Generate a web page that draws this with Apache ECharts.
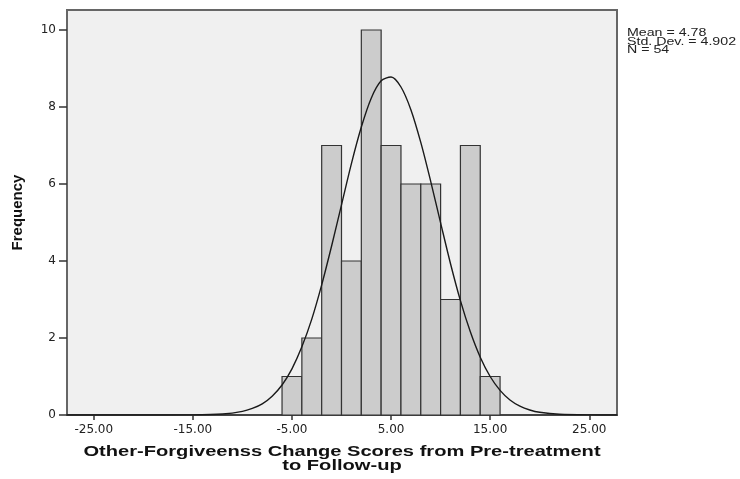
<!DOCTYPE html>
<html>
<head>
<meta charset="utf-8">
<script src="https://cdn.jsdelivr.net/npm/echarts@6/dist/echarts.min.js"></script>
<style>html,body{margin:0;padding:0;background:#fff}#c{width:740px;height:479px}</style>
</head>
<body>
<div id="c"></div>
<script>
// Histogram bins (start of each bin, width 2)
var binStarts = [-6, -4, -2, 0, 2, 4, 6, 8, 10, 12, 14];
var binWidth = 2;
var counts = [1, 2, 7, 4, 10, 7, 6, 6, 3, 7, 1];
// Normal curve
var curveX = [-27.7, -25, -20, -15, -12, -10, -9, -8, -7, -6, -5, -4, -3, -2, -1, 0, 1, 2, 3, 4, 5, 6, 7, 8, 9, 10, 11, 12, 13, 14, 15, 16, 17, 18, 19, 20, 22, 25, 27.8];
var curveY = [0, 0, 0, 0.003, 0.025, 0.093, 0.17, 0.29, 0.49, 0.78, 1.20, 1.77, 2.49, 3.38, 4.39, 5.46, 6.53, 7.48, 8.23, 8.68, 8.78, 8.52, 7.93, 7.08, 6.07, 4.99, 3.93, 2.97, 2.16, 1.50, 1.00, 0.64, 0.39, 0.23, 0.13, 0.07, 0.018, 0.002, 0];
var xTicks = [-25, -15, -5, 5, 15, 25];
var yTicks = [0, 2, 4, 6, 8, 10];
var statsLines = ['Mean = 4.78', 'Std. Dev. = 4.902', 'N = 54'];
var xTitleLines = ['Other-Forgiveenss Change Scores from Pre-treatment', 'to Follow-up'];
var yTitle = 'Frequency';

var chart = echarts.init(document.getElementById('c'));
var barData = binStarts.map(function (s, i) { return [s, s + binWidth, counts[i]]; });
var lineData = curveX.map(function (x, i) { return [x, curveY[i]]; });

chart.setOption({
  animation: false,
  backgroundColor: '#ffffff',
  grid: { left: 67, right: 123, top: 10, bottom: 64, show: true, backgroundColor: '#f0f0f0', borderColor: '#666', borderWidth: 2 },
  xAxis: {
    type: 'value', min: -27.7, max: 27.8,
    axisLine: { show: true, onZero: false, lineStyle: { color: '#444', width: 2 } },
    axisTick: { show: true, length: 5, customValues: xTicks, lineStyle: { color: '#333', width: 1.5 } },
    axisLabel: { customValues: xTicks, margin: 9, color: '#222', fontFamily: 'DejaVu Sans', fontSize: 12,
      formatter: function (v) { return v.toFixed(2); } },
    splitLine: { show: false }
  },
  yAxis: {
    type: 'value', min: 0, max: 10.52,
    axisLine: { show: true, onZero: false, lineStyle: { color: '#666', width: 2 } },
    axisTick: { show: true, length: 8, customValues: yTicks, lineStyle: { color: '#333', width: 1.5 } },
    axisLabel: { customValues: yTicks, margin: 11, color: '#222', fontFamily: 'DejaVu Sans', fontSize: 12 },
    splitLine: { show: false },
    name: yTitle, nameLocation: 'middle', nameGap: 42,
    nameTextStyle: { fontFamily: 'Liberation Sans', fontWeight: 'bold', fontSize: 15, color: '#111' }
  },
  graphic: [{
    type: 'text', x: 627, y: 29.5, scaleX: 1.42,
    style: { text: statsLines.join('\n'), fontFamily: 'Liberation Sans', fontSize: 10, lineHeight: 8.3, fill: '#222',
      textAlign: 'left', textVerticalAlign: 'top' }
  }, {
    type: 'text', x: 342, y: 459, scaleX: 1.34,
    style: { text: xTitleLines.join('\n'), fontFamily: 'Liberation Sans', fontWeight: 'bold', fontSize: 15, lineHeight: 13.5,
      fill: '#111', textAlign: 'center', textVerticalAlign: 'middle' }
  }],
  series: [{
    type: 'custom',
    data: barData,
    encode: { x: [0, 1], y: 2 },
    renderItem: function (params, api) {
      var p0 = api.coord([api.value(0), api.value(2)]);
      var p1 = api.coord([api.value(1), 0]);
      return {
        type: 'rect',
        shape: { x: p0[0], y: p0[1], width: p1[0] - p0[0], height: p1[1] - p0[1] },
        style: { fill: '#cccccc', stroke: '#333', lineWidth: 1.2 }
      };
    }
  }, {
    type: 'line', data: lineData, showSymbol: false, symbol: 'none',
    smooth: 0.3,
    lineStyle: { color: '#1a1a1a', width: 1.4 }, z: 5
  }]
});
</script>
</body>
</html>
